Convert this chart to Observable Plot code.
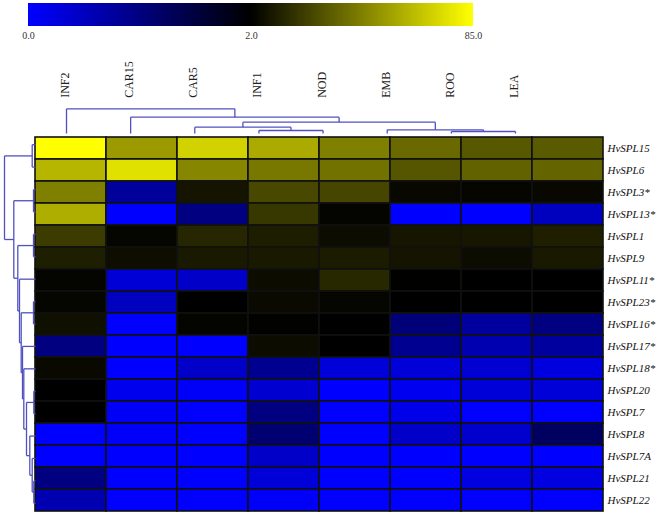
<!DOCTYPE html>
<html><head><meta charset="utf-8">
<script src="https://cdn.jsdelivr.net/npm/d3@7"></script>
<script src="https://cdn.jsdelivr.net/npm/@observablehq/plot@0.6"></script>
<style>
body{margin:0;background:#fff}
#wrap{position:relative;width:666px;height:519px;overflow:hidden;background:#fff}
#wrap > *{position:absolute;left:0;top:0}
#wrap svg text{font-family:'Liberation Serif', serif}
#legend line{display:none}
#legend path.domain{display:none}
#legend text{font-size:10px;fill:#333}
</style></head><body><div id="wrap"></div>
<script>
// ---- data ----
const columns = ["INF2","CAR15","CAR5","INF1","NOD","EMB","ROO","LEA"];
const rows = ["HvSPL15","HvSPL6","HvSPL3*","HvSPL13*","HvSPL1","HvSPL9","HvSPL11*","HvSPL23*","HvSPL16*","HvSPL17*","HvSPL18*","HvSPL20","HvSPL7","HvSPL8","HvSPL7A","HvSPL21","HvSPL22"];
// expression per column, in row order
const vINF2  = [85, 61.2, 43.7, 58.6, 21.5, 11.8, 3.3, 4, 7.2, 1.0, 5, 2, 2, 0, 0, 1.0, 0.62];
const vCAR15 = [52.4, 75.2, 0.79, 0, 4, 6.5, 0.32, 0.5, 0, 0, 0, 0.13, 0.07, 0.04, 0, 0, 0];
const vCAR5  = [70.3, 45.6, 8.5, 1.0, 14.4, 10.2, 0.43, 2, 3.6, 0, 0.43, 0.05, 0, 0, 0, 0, 0];
const vINF1  = [57.3, 41.1, 25.4, 20, 11.4, 10.2, 5.9, 5.3, 2.6, 5.9, 0.87, 0.37, 1.0, 1.12, 0.43, 0.3, 0.05];
const vNOD   = [43.7, 39.1, 24.8, 3.6, 5.9, 10.8, 15, 4, 2, 2, 0.3, 0, 0, 0, 0, 0, 0];
const vEMB   = [36.2, 30, 4.6, 0, 9.2, 8.5, 2.3, 2, 1.06, 0.87, 0.3, 0.12, 0.18, 0.43, 0, 0, 0];
const vROO   = [30.6, 34, 4, 0, 9.5, 5.9, 2, 2, 0.75, 0.62, 0.35, 0.3, 0, 0.4, 0, 0.24, 0];
const vLEA   = [31.3, 34.5, 4.6, 0.5, 12, 10.2, 2, 2, 1.0, 0.75, 0.25, 0.3, 0, 1.25, 0, 0.24, 0];
const columnValues = [vINF2, vCAR15, vCAR5, vINF1, vNOD, vEMB, vROO, vLEA];

// colour scale stops and legend ticks
const colorDomain = [0, 2, 85];
const colorRange = ["#0000ff", "#000000", "#ffff00"];
const legendTicks = [0, 2, 85];

// dendrograms: [left, right, merge height]; "#k" refers to the k-th merge
const colTree = [
  ["INF1", "NOD", 3.0],
  ["CAR5", "#0", 6.3],
  ["ROO", "LEA", 2.0],
  ["EMB", "#2", 3.7],
  ["#1", "#3", 11.3],
  ["CAR15", "#4", 16.3],
  ["INF2", "#5", 24.7]
];
const rowTree = [
  ["HvSPL15", "HvSPL6", 3.3],
  ["HvSPL3*", "HvSPL13*", 2.0],
  ["HvSPL1", "HvSPL9", 2.0],
  ["HvSPL23*", "HvSPL16*", 2.0],
  ["HvSPL20", "HvSPL7", 1.7],
  ["HvSPL21", "HvSPL22", 1.7],
  ["HvSPL7A", "#5", 3.3],
  ["HvSPL8", "#6", 5.7],
  ["#4", "#7", 9.0],
  ["HvSPL18*", "#8", 11.7],
  ["HvSPL17*", "#9", 13.0],
  ["#3", "#10", 14.3],
  ["HvSPL11*", "#11", 16.0],
  ["#2", "#12", 17.7],
  ["#1", "#13", 21.7],
  ["#0", "#14", 31.0]
];

// ---- build tables ----
const cells = [];
columns.forEach((c, j) => rows.forEach((r, i) => cells.push({col: c, row: r, value: columnValues[j][i]})));

function dendroLinks(tree, leaves) {
  const nodes = new Map(leaves.map((d, i) => [d, {pos: i, h: 0}]));
  const links = [];
  tree.forEach(([a, b, h], k) => {
    const A = nodes.get(a), B = nodes.get(b);
    links.push({p1: A.pos, h1: A.h, p2: A.pos, h2: h});
    links.push({p1: B.pos, h1: B.h, p2: B.pos, h2: h});
    links.push({p1: A.pos, h1: h, p2: B.pos, h2: h});
    nodes.set("#" + k, {pos: (A.pos + B.pos) / 2, h});
  });
  return links;
}
const colLinks = dendroLinks(colTree, columns);
const rowLinks = dendroLinks(rowTree, rows);

const colorScale = {type: "linear", domain: colorDomain, range: colorRange, interpolate: "rgb"};
const treeStroke = "#5050c0";
const wrap = document.getElementById("wrap");

// ---- main heatmap ----
const main = Plot.plot({
  width: 666, height: 519,
  marginTop: 133, marginBottom: 5, marginLeft: 35, marginRight: 63,
  style: {background: "transparent", fontFamily: "'Liberation Serif', serif", color: "#111"},
  x: {domain: columns, padding: 0, axis: null},
  y: {domain: rows, padding: 0, axis: null},
  color: colorScale,
  marks: [
    Plot.cell(cells, {x: "col", y: "row", fill: "value", stroke: "#111", strokeWidth: 1.6}),
    Plot.axisY({anchor: "right", tickSize: 0, tickPadding: 4, fontSize: 11, fontStyle: "italic", label: null})
  ]
});
wrap.appendChild(main);

// ---- column dendrogram + labels ----
const header = Plot.plot({
  width: 666, height: 519,
  marginTop: 108.3, marginBottom: 386, marginLeft: 66, marginRight: 151,
  style: {background: "transparent", fontFamily: "'Liberation Serif', serif", pointerEvents: "none"},
  x: {domain: [0, columns.length - 1], axis: null},
  y: {domain: [0, d3.max(colTree, d => d[2])], axis: null},
  marks: [
    Plot.link(colLinks, {x1: "p1", y1: "h1", x2: "p2", y2: "h2", stroke: treeStroke, strokeWidth: 1.3}),
    Plot.text(columns, {x: (d, i) => i, text: d => d, frameAnchor: "top", dy: -11, dx: -6,
      rotate: -90, textAnchor: "start", fontSize: 12, fill: "#222"})
  ]
});
wrap.appendChild(header);

// ---- row dendrogram ----
const rowDendro = Plot.plot({
  width: 666, height: 519,
  marginTop: 133, marginBottom: 5, marginLeft: 4, marginRight: 631,
  style: {background: "transparent", pointerEvents: "none"},
  x: {domain: [d3.max(rowTree, d => d[2]), 0], axis: null},
  y: {domain: [-0.5, rows.length - 0.5], reverse: true, axis: null},
  marks: [
    Plot.link(rowLinks, {x1: "h1", y1: "p1", x2: "h2", y2: "p2", stroke: treeStroke, strokeWidth: 1.3})
  ]
});
wrap.appendChild(rowDendro);

// ---- colour bar ----
const legend = Plot.legend({
  color: colorScale,
  width: 493, height: 42, marginLeft: 28, marginRight: 20, marginTop: 3, marginBottom: 16,
  ticks: legendTicks, tickSize: 3, tickFormat: d => d.toFixed(1),
  style: {background: "transparent", fontFamily: "'Liberation Serif', serif", fontSize: "10px", color: "#333"}
});
legend.id = "legend";
wrap.appendChild(legend);
</script></body></html>
